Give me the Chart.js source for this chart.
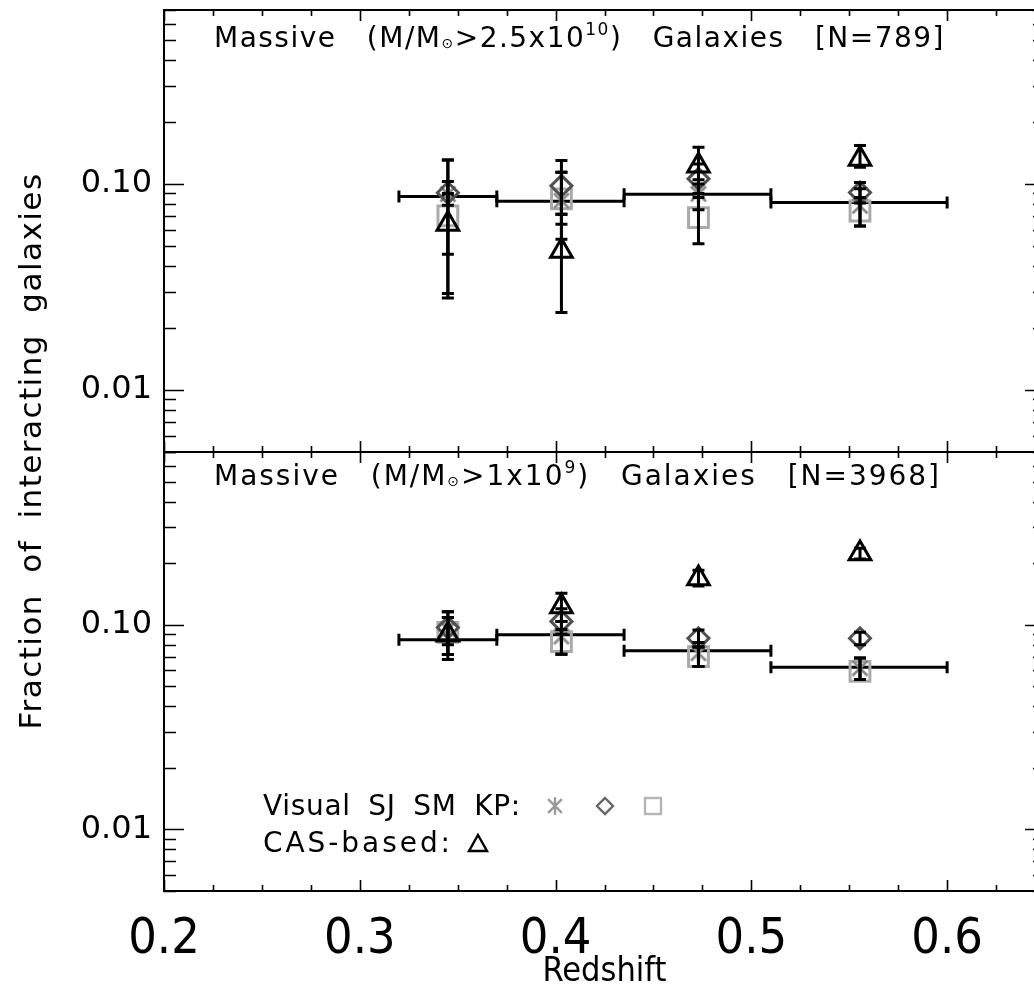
<!DOCTYPE html>
<html><head><meta charset="utf-8">
<style>
html,body{margin:0;padding:0;background:#fff;overflow:hidden;width:1034px;height:990px}
.cv{position:absolute;left:0;top:0}
</style>
<script src="https://cdn.jsdelivr.net/npm/chart.js@4/dist/chart.umd.min.js"></script>
</head><body>
<canvas id="cTop" class="cv" width="1050" height="990"></canvas>
<canvas id="cBot" class="cv" width="1050" height="990"></canvas>
<script>
// ---------------- data ----------------
const binLo = [0.32, 0.37, 0.435, 0.51];
const binHi = [0.37, 0.435, 0.51, 0.60];
const zMed  = [0.345, 0.403, 0.473, 0.5555];

// Top panel: M/Msun > 2.5e10
const topMean  = [0.087, 0.0826, 0.0892, 0.0813];
const topSJ    = [0.0894, 0.083, 0.0896, 0.0784];
const topSJlo  = [0.0456, 0.054, 0.075, 0.0626];
const topSJhi  = [0.131, 0.114, 0.105, 0.095];
const topSM    = [0.0907, 0.098, 0.106, 0.091];
const topSMlo  = [0.079, 0.0714, 0.09, 0.081];
const topSMhi  = [0.103, 0.130, 0.125, 0.1018];
const topKP    = [0.070, 0.0848, 0.0687, 0.074];
const topKPlo  = [0.0294, 0.0638, 0.0513, 0.0626];
const topKPhi  = [0.09, 0.114, 0.086, 0.086];
const topCAS   = [0.064, 0.0473, 0.1228, 0.1324];
const topCASlo = [0.028, 0.0238, 0.10, 0.1205];
const topCAShi = [0.131, 0.0714, 0.1509, 0.1538];

// Bottom panel: M/Msun > 1e9
const botMean  = [0.0845, 0.0894, 0.0747, 0.0621];
const botSJ    = [0.095, 0.0877, 0.0727, 0.0614];
const botSJlo  = [0.0717, 0.0719, 0.0626, 0.054];
const botSJhi  = [0.1085, 0.104, 0.082, 0.0688];
const botSM    = [0.097, 0.104, 0.086, 0.086];
const botSMlo  = [0.08, 0.09, 0.078, 0.08];
const botSMhi  = [0.116, 0.12, 0.0945, 0.092];
const botKP    = [0.092, 0.0829, 0.070, 0.0592];
const botKPlo  = [0.0717, 0.0719, 0.0626, 0.054];
const botKPhi  = [0.1085, 0.095, 0.078, 0.0688];
const botCAS   = [0.0894, 0.1228, 0.1687, 0.2235];
const botCASlo = [0.0677, 0.104, 0.155, 0.21];
const botCAShi = [0.116, 0.1426, 0.185, 0.237];

// ticks
const xTickValues = [0.2,0.225,0.25,0.275,0.3,0.325,0.35,0.375,0.4,0.425,0.45,0.475,0.5,0.525,0.55,0.575,0.6,0.625,0.65];
const xLabelValues = [0.2, 0.3, 0.4, 0.5, 0.6];
const xLabelTexts  = ['0.2', '0.3', '0.4', '0.5', '0.6'];
const yTickValues = [0.005,0.006,0.007,0.008,0.009,0.01,0.02,0.03,0.04,0.05,0.06,0.07,0.08,0.09,0.1,0.2,0.3,0.4,0.5,0.6,0.7];
const yLabelValues = [0.01, 0.1];
const yLabelTexts  = ['0.01', '0.10'];

const seriesLabels = ['Visual SJ', 'Visual SM', 'Visual KP', 'CAS-based'];

// ---------------- styling ----------------
function hasFont(name) {
  const c = document.createElement('canvas').getContext('2d');
  const s = 'abcdefghijklmnopqrstuvwxyz0123456789';
  c.font = '40px monospace'; const a = c.measureText(s).width;
  c.font = `40px "${name}", monospace`; const b = c.measureText(s).width;
  return Math.abs(a - b) > 0.5;
}
const FONT = '"DejaVu Sans", "Liberation Sans", sans-serif';
const NARROW = hasFont('Liberation Sans Narrow') ? '"Liberation Sans Narrow", sans-serif'
             : hasFont('DejaVu Sans Condensed') ? '"DejaVu Sans Condensed", sans-serif'
             : '"Liberation Sans", sans-serif';
const COL_SJ = '#8a8a8a', COL_SM = '#505050', COL_KP = '#aaaaaa', COL_CAS = '#000000';

function asteriskImage(size, color, lw) {
  const c = document.createElement('canvas');
  c.width = size; c.height = size;
  const g = c.getContext('2d');
  const m = size / 2, r = size / 2 - lw / 2;
  g.strokeStyle = color; g.lineWidth = lw; g.lineCap = 'butt';
  g.beginPath();
  g.moveTo(m, m - r); g.lineTo(m, m + r);
  const d = r * 0.78;
  g.moveTo(m - d, m - d); g.lineTo(m + d, m + d);
  g.moveTo(m - d, m + d); g.lineTo(m + d, m - d);
  g.stroke();
  return c;
}
const ASTER = asteriskImage(22, COL_SJ, 2.8);
const ASTER_LEG = asteriskImage(20, '#999999', 2.4);

function labelFor(v, vals, texts) {
  const i = vals.findIndex(l => Math.abs(l - v) < 1e-9);
  return i >= 0 ? texts[i] : '';
}
function isIn(v, vals) { return vals.some(l => Math.abs(l - v) < 1e-9); }

function pts(arr) { return zMed.map((z, i) => ({x: z, y: arr[i]})); }

function panelDatasets(d) {
  return [
    {label: seriesLabels[3], data: pts(d.cas), errLo: d.casLo, errHi: d.casHi,
     pointStyle: 'triangle', pointRadius: 12.5, borderColor: COL_CAS, pointBorderWidth: 3},
    {label: seriesLabels[1], data: pts(d.sm), errLo: d.smLo, errHi: d.smHi,
     pointStyle: 'rectRot', pointRadius: 10.5, borderColor: COL_SM, pointBorderWidth: 3},
    {label: seriesLabels[0], data: pts(d.sj), errLo: d.sjLo, errHi: d.sjHi,
     pointStyle: ASTER, pointRadius: 11, borderColor: COL_SJ, pointBorderWidth: 2.8},
    {label: seriesLabels[2], data: pts(d.kp), errLo: d.kpLo, errHi: d.kpHi,
     pointStyle: 'rect', pointRadius: 14, borderColor: COL_KP, pointBorderWidth: 3},
    {label: 'bin mean', data: pts(d.mean), binLo: binLo, binHi: binHi, pointRadius: 0}
  ].map(ds => Object.assign({backgroundColor: 'rgba(0,0,0,0)', showLine: false,
        pointBackgroundColor: 'rgba(0,0,0,0)', pointHoverRadius: ds.pointRadius}, ds));
}

// ---------------- plugin: frame, inward ticks, error bars, text ----------------
// draws text pieces; spaces get extra width spExtra, remaining slack goes to letter spacing
function drawRich(ctx, parts, x, y, size, targetW, spExtra) {
  let w = 0, n = 0, nc = 0;
  parts.forEach(p => {
    ctx.font = `${Math.round(size * (p.s || 1))}px ${FONT}`;
    w += ctx.measureText(p.t).width; n += (p.t.match(/ /g) || []).length; nc += [...p.t].length;
  });
  const ls = (targetW - w - n * spExtra) / nc;
  let cx = x;
  ctx.textAlign = 'left'; ctx.textBaseline = 'alphabetic';
  parts.forEach(p => {
    ctx.font = `${Math.round(size * (p.s || 1))}px ${FONT}`;
    ctx.wordSpacing = spExtra + 'px';
    ctx.letterSpacing = ls + 'px';
    ctx.fillText(p.t, cx, y + (p.dy || 0));
    cx += ctx.measureText(p.t).width;
    ctx.wordSpacing = '0px';
    ctx.letterSpacing = '0px';
  });
}

const decor = {
  id: 'decor',
  beforeDatasetsDraw(chart) {
    const {ctx} = chart, xs = chart.scales.x, ys = chart.scales.y;
    ctx.save();
    ctx.strokeStyle = '#000'; ctx.lineWidth = 3; ctx.lineCap = 'butt';
    chart.data.datasets.forEach(ds => {
      if (!ds.binLo) return;
      ds.data.forEach((p, i) => {
        const x0 = xs.getPixelForValue(ds.binLo[i]), x1 = xs.getPixelForValue(ds.binHi[i]);
        const y = ys.getPixelForValue(p.y);
        ctx.beginPath();
        ctx.moveTo(x0, y); ctx.lineTo(x1, y);
        ctx.moveTo(x0, y - 6); ctx.lineTo(x0, y + 6);
        ctx.moveTo(x1, y - 6); ctx.lineTo(x1, y + 6);
        ctx.stroke();
      });
    });
    ctx.restore();
  },
  afterDatasetsDraw(chart) {
    const {ctx} = chart, xs = chart.scales.x, ys = chart.scales.y;
    ctx.save();
    ctx.strokeStyle = '#000'; ctx.lineWidth = 3; ctx.lineCap = 'butt';
    chart.data.datasets.forEach(ds => {
      if (!ds.errLo) return;
      ds.data.forEach((p, i) => {
        const x = xs.getPixelForValue(p.x);
        const y0 = ys.getPixelForValue(ds.errLo[i]), y1 = ys.getPixelForValue(ds.errHi[i]);
        ctx.beginPath();
        ctx.moveTo(x, y0); ctx.lineTo(x, y1);
        ctx.moveTo(x - 6, y0); ctx.lineTo(x + 6, y0);
        ctx.moveTo(x - 6, y1); ctx.lineTo(x + 6, y1);
        ctx.stroke();
      });
    });
    ctx.restore();
  },
  afterDraw(chart, args, opts) {
    const {ctx, chartArea: a} = chart, xs = chart.scales.x, ys = chart.scales.y;
    ctx.save();
    ctx.strokeStyle = '#000'; ctx.fillStyle = '#000';
    // inward ticks
    ctx.lineWidth = 1.6;
    ctx.beginPath();
    xTickValues.forEach(v => {
      const x = Math.round(xs.getPixelForValue(v)) + 0.5;
      const L = isIn(v, xLabelValues) ? 11 : 6;
      ctx.moveTo(x, a.bottom); ctx.lineTo(x, a.bottom - L);
      ctx.moveTo(x, a.top); ctx.lineTo(x, a.top + L);
    });
    yTickValues.forEach(v => {
      const y = Math.round(ys.getPixelForValue(v)) + 0.5;
      const L = isIn(v, yLabelValues) ? 20 : 12;
      ctx.moveTo(a.left, y); ctx.lineTo(a.left + L, y);
      ctx.moveTo(a.right, y); ctx.lineTo(a.right - L, y);
    });
    ctx.stroke();
    // frame
    ctx.lineWidth = 2;
    ctx.strokeRect(a.left, a.top, a.right - a.left, a.bottom - a.top);
    // panel title
    if (opts.title) drawRich(ctx, opts.title, 214, opts.titleY, 28, opts.titleW, 20);
    // legend
    if (opts.legend) {
      drawRich(ctx, [{t: 'Visual SJ SM KP:'}], 263, 815, 28, 258, 8);
      drawRich(ctx, [{t: 'CAS-based:'}], 263, 852, 28, 190, 8);
      ctx.drawImage(ASTER_LEG, 555 - 10, 806 - 10);
      ctx.lineWidth = 2.4;
      ctx.strokeStyle = '#666666';
      ctx.beginPath();
      ctx.moveTo(605, 798); ctx.lineTo(613, 806); ctx.lineTo(605, 814); ctx.lineTo(597, 806); ctx.closePath();
      ctx.stroke();
      ctx.strokeStyle = '#b5b5b5';
      ctx.strokeRect(645, 798, 16, 16);
      ctx.strokeStyle = '#000';
      ctx.beginPath();
      ctx.moveTo(478, 835); ctx.lineTo(487, 851); ctx.lineTo(469, 851); ctx.closePath();
      ctx.stroke();
    }
    // y title
    if (opts.yTitle) {
      ctx.save();
      ctx.translate(33, 451);
      ctx.rotate(-Math.PI / 2);
      ctx.font = `31px ${FONT}`;
      const w = ctx.measureText(opts.yTitle).width;
      const nSp = (opts.yTitle.match(/ /g) || []).length;
      const sp = 10;
      ctx.wordSpacing = sp + 'px';
      ctx.letterSpacing = ((557 - w - nSp * sp) / opts.yTitle.length) + 'px';
      ctx.textAlign = 'center'; ctx.textBaseline = 'middle';
      ctx.fillText(opts.yTitle, 0, 0);
      ctx.restore();
    }
    ctx.restore();
  }
};

function noPad(s) { s.paddingTop = 0; s.paddingBottom = 0; s.paddingLeft = 0; s.paddingRight = 0; }

function makeChart(id, d, isBottom, decorOpts) {
  return new Chart(document.getElementById(id), {
    type: 'scatter',
    data: {datasets: panelDatasets(d)},
    options: {
      responsive: false, animation: false, devicePixelRatio: 1,
      layout: {autoPadding: false,
               padding: isBottom ? {left: 0, right: 5, top: 452, bottom: 0}
                                 : {left: 0, right: 5, top: 10, bottom: 538}},
      plugins: {legend: {display: false}, tooltip: {enabled: false}, decor: decorOpts},
      scales: {
        x: {
          type: 'linear', min: 0.2, max: 0.65, position: 'bottom',
          grid: {display: false, drawTicks: false}, border: {display: false},
          afterBuildTicks: s => { s.ticks = xLabelValues.map(v => ({value: v})); },
          afterFit: s => { s.height = isBottom ? 99 : 0; noPad(s); },
          ticks: {display: isBottom, autoSkip: false, maxRotation: 0, minRotation: 0, padding: 19,
                  color: '#000', font: {size: 50, family: NARROW},
                  callback: v => labelFor(v, xLabelValues, xLabelTexts)},
          title: {display: isBottom, text: 'Redshift', color: '#000',
                  font: {size: 34, family: NARROW}, padding: {top: 0, bottom: -3}}
        },
        y: {
          type: 'logarithmic', position: 'left', min: 0.005, max: 0.7,
          grid: {display: false, drawTicks: false}, border: {display: false},
          afterBuildTicks: s => { s.ticks = yLabelValues.map(v => ({value: v})); },
          afterFit: s => { s.width = 164; noPad(s); },
          ticks: {autoSkip: false, padding: 12, color: '#000', font: {size: 32, family: FONT},
                  callback: v => labelFor(v, yLabelValues, yLabelTexts)}
        }
      }
    },
    plugins: [decor]
  });
}

makeChart('cTop', {
  mean: topMean, sj: topSJ, sjLo: topSJlo, sjHi: topSJhi, sm: topSM, smLo: topSMlo, smHi: topSMhi,
  kp: topKP, kpLo: topKPlo, kpHi: topKPhi, cas: topCAS, casLo: topCASlo, casHi: topCAShi
}, false, {
  title: [{t: 'Massive (M/M'}, {t: '\u2299', s: 0.5, dy: 1}, {t: '>2.5x10'}, {t: '10', s: 0.6, dy: -12},
          {t: ') Galaxies [N=789]'}],
  titleY: 47, titleW: 731
});

makeChart('cBot', {
  mean: botMean, sj: botSJ, sjLo: botSJlo, sjHi: botSJhi, sm: botSM, smLo: botSMlo, smHi: botSMhi,
  kp: botKP, kpLo: botKPlo, kpHi: botKPhi, cas: botCAS, casLo: botCASlo, casHi: botCAShi
}, true, {
  title: [{t: 'Massive (M/M'}, {t: '\u2299', s: 0.5, dy: 1}, {t: '>1x10'}, {t: '9', s: 0.6, dy: -12},
          {t: ') Galaxies [N=3968]'}],
  titleY: 485, titleW: 727,
  legend: true,
  yTitle: 'Fraction of interacting galaxies'
});
</script>
</body></html>
